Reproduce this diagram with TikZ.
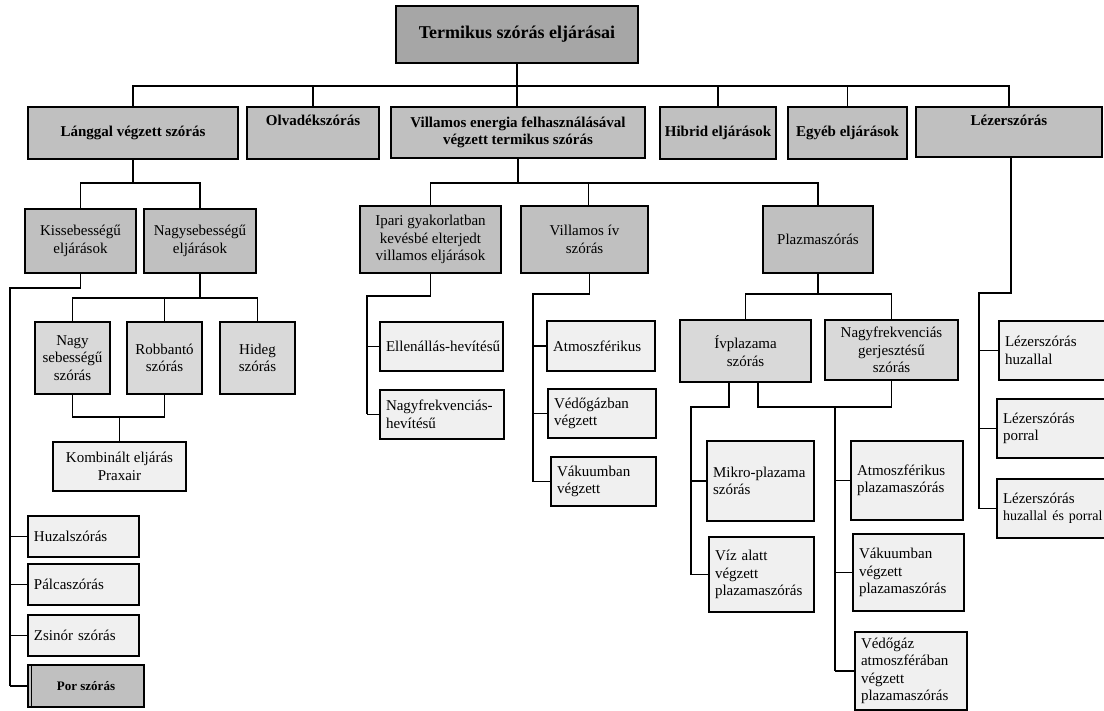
\documentclass[tikz,border=0pt]{standalone}
\usepackage{fontspec}
\setmainfont{Liberation Serif}
\hyphenpenalty=10000
\exhyphenpenalty=10000
\definecolor{cRoot}{HTML}{A6A6A6}
\definecolor{cMid}{HTML}{C0C0C0}
\definecolor{cLight}{HTML}{D9D9D9}
\definecolor{cLeaf}{HTML}{F0F0F0}
\newcommand\gbox[7]{%
  \pgfmathsetmacro\cx{(#3+#5)/2}\pgfmathsetmacro\cy{(#4+#6)/2}%
  \pgfmathsetmacro\ww{#5-#3}\pgfmathsetmacro\hh{#6-#4}%
  \node[box,#2,minimum width=\ww pt,minimum height=\hh pt] (#1) at (\cx,\cy) {#7};}
\newcommand\leafbox[6]{%
  \pgfmathsetmacro\cx{(#2+#4)/2}\pgfmathsetmacro\cy{(#3+#5)/2}%
  \pgfmathsetmacro\tw{#4-#2-12}\pgfmathsetmacro\hh{#5-#3}%
  \node[box,leaf,text width=\tw pt,minimum height=\hh pt] (#1) at (\cx,\cy) {#6};}
\begin{document}
\begin{tikzpicture}[x=1pt,y=-1pt,
  box/.style={draw=black,line width=1.8pt,inner sep=2pt,align=center,
    font=\fontsize{15}{17.5}\selectfont},
  bold/.style={font=\fontsize{15}{17.5}\selectfont\bfseries},
  mid/.style={fill=cMid},
  light/.style={fill=cLight},
  leaf/.style={fill=cLeaf,align=left,inner xsep=6pt},
  conn/.style={line width=1.8pt},
  tconn/.style={line width=1.2pt}]
\useasboundingbox (0,0) rectangle (1104,711);
\fill[white] (0,0) rectangle (1104,711);

% root and level 1
\gbox{root}{fill=cRoot,font=\fontsize{18}{21}\selectfont\bfseries}{396}{6}{638}{63}{Termikus szórás eljárásai}
\gbox{lang}{mid,bold}{28}{107}{238}{159}{Lánggal végzett szórás}
\gbox{olvad}{mid,bold}{247}{107}{379}{159}{Olvadékszórás\\[8pt]}
\gbox{villen}{mid,bold}{391}{107}{645}{158}{Villamos energia felhasználásával\\végzett termikus szórás}
\gbox{hibrid}{mid,bold}{660}{107}{776}{159}{Hibrid eljárások}
\gbox{egyeb}{mid,bold}{788}{107}{907}{159}{Egyéb eljárások}
\gbox{lezer}{mid,bold}{916}{107}{1102}{157}{Lézerszórás\\[6pt]}

% level 2
\gbox{kiss}{mid}{25}{209}{136}{273}{Kissebességű\\eljárások}
\gbox{nagy}{mid}{144}{209}{256}{273}{Nagysebességű\\eljárások}
\gbox{ipari}{mid}{360}{206}{501}{273}{Ipari gyakorlatban\\kevésbé elterjedt\\villamos eljárások}
\gbox{viv}{mid}{521}{206}{648}{273}{Villamos ív\\szórás}
\gbox{plazma}{mid}{763}{206}{873}{273}{Plazmaszórás}

% level 3
\gbox{nsz}{light}{35}{322}{110}{394}{Nagy\\sebességű\\szórás}
\gbox{robb}{light}{127}{322}{202}{394}{Robbantó\\szórás}
\gbox{hideg}{light}{220}{322}{295}{394}{Hideg\\szórás}
\gbox{komb}{fill=cLeaf}{53}{442}{186}{491}{Kombinált eljárás\\Praxair}
\gbox{ivp}{light}{680}{320}{811}{382}{Ívplazama\\szórás}
\gbox{nfg}{light}{825}{320}{958}{380}{Nagyfrekvenciás\\gerjesztésű\\szórás}

% leaves
\leafbox{huzal}{28}{516}{139}{557}{Huzalszórás}
\leafbox{palca}{28}{564}{139}{605}{Pálcaszórás}
\leafbox{zsinor}{28}{615}{139}{656}{Zsinór szórás}
\gbox{por}{mid,font=\fontsize{13}{15}\selectfont\bfseries}{28}{665}{144}{707}{Por szórás}
\draw[line width=1.2pt] ([xshift=4pt]por.north west) -- ([xshift=4pt]por.south west);

\leafbox{ell}{380}{322}{503}{371}{Ellenállás-hevítésű}
\leafbox{nfh}{380}{390}{504}{439}{Nagyfrekvenciás-\\hevítésű}
\leafbox{atm}{547}{321}{655}{371}{Atmoszférikus}
\leafbox{vedg}{548}{389}{656}{438}{Védőgázban\\végzett}
\leafbox{vak}{551}{457}{656}{506}{Vákuumban\\végzett}

\leafbox{mikro}{707}{441}{814}{521}{Mikro-plazama\\szórás}
\leafbox{viz}{709}{537}{814}{612}{Víz alatt\\végzett\\plazamaszórás}
\leafbox{atp}{851}{441}{963}{520}{Atmoszférikus\\plazamaszórás\\[4pt]}
\leafbox{vakp}{853}{534}{964}{611}{Vákuumban\\végzett\\plazamaszórás}
\leafbox{vedo}{855}{632}{967}{710}{Védőgáz\\atmoszférában\\végzett\\plazamaszórás}

\leafbox{lhu}{999}{321}{1112}{380}{Lézerszórás\\huzallal}
\leafbox{lpo}{997}{399}{1112}{458}{Lézerszórás\\porral}
\leafbox{lhp}{997}{479}{1112}{538}{Lézerszórás\\{\fontsize{14}{17.5}\selectfont huzallal~és~porral}}

% top bus
\coordinate (bus) at (0,86);
\draw[conn] (lang.north) -- (lang.north |- bus) -- (lezer.north |- bus) -- (lezer.north);
\draw[conn] (root.south) -- (root.south |- villen.north);
\foreach \n in {olvad,hibrid,egyeb} \draw[conn] (\n.north) -- (\n.north |- bus);

% under Lánggal
\coordinate (lb) at (0,183);
\draw[conn] (lang.south) -- (lang.south |- lb);
\draw[conn] (kiss.north) -- (kiss.north |- lb) -- (nagy.north |- lb) -- (nagy.north);

% under Nagysebességű
\coordinate (nb) at (0,298);
\draw[conn] (nagy.south) -- (nagy.south |- nb);
\draw[conn] (nsz.north) -- (nsz.north |- nb) -- (hideg.north |- nb) -- (hideg.north);
\draw[conn] (robb.north) -- (robb.north |- nb);
\coordinate (kb) at (0,417);
\draw[conn] (nsz.south) -- (nsz.south |- kb) -- (robb.south |- kb) -- (robb.south);
\draw[conn] (komb.north) -- (komb.north |- kb);

% under Kissebességű
\coordinate (ks) at (10,288);
\draw[tconn] (kiss.south) |- (ks) -- (ks |- por.west);
\foreach \n in {huzal,palca,zsinor,por} \draw[conn] (ks |- \n.west) -- (\n.west);

% under Villamos energia
\coordinate (vb) at (0,183);
\draw[conn] (villen.south) -- (villen.south |- vb);
\draw[conn] (ipari.north) -- (ipari.north |- vb) -- (plazma.north |- vb) -- (plazma.north);
\draw[conn] ([xshift=4pt]viv.north) -- ([xshift=4pt]viv.north |- vb);

% under Ipari
\coordinate (is) at (367,296);
\draw[tconn] (ipari.south) |- (is) -- (is |- nfh.west);
\foreach \n in {ell,nfh} \draw[conn] (is |- \n.west) -- (\n.west);

% under Villamos ív
\coordinate (vs) at (533,294);
\draw[tconn] ([xshift=5pt]viv.south) |- (vs) -- (vs |- vak.west);
\foreach \n in {atm,vedg,vak} \draw[conn] (vs |- \n.west) -- (\n.west);

% under Plazmaszórás
\coordinate (pb) at (0,294);
\draw[conn] (plazma.south) -- (plazma.south |- pb);
\draw[conn] (ivp.north) -- (ivp.north |- pb) -- (nfg.north |- pb) -- (nfg.north);

% under Ívplazama
\coordinate (ia) at (691,407);
\draw[tconn] ([xshift=-16.5pt]ivp.south) |- (ia) -- (ia |- viz.west);
\foreach \n in {mikro,viz} \draw[conn] (ia |- \n.west) -- (\n.west);
\coordinate (ib) at (835,407);
\draw[conn] ([xshift=12.5pt]ivp.south) |- (nfg.south |- ib) -- (nfg.south);
\draw[tconn] (ib) -- (ib |- vedo.west);
\foreach \n in {atp,vakp,vedo} \draw[conn] (ib |- \n.west) -- (\n.west);

% under Lézerszórás
\coordinate (ls) at (979,293);
\draw[tconn] ([xshift=2pt]lezer.south) |- (ls) -- (ls |- lhp.west);
\foreach \n in {lhu,lpo,lhp} \draw[conn] (ls |- \n.west) -- (\n.west);
\end{tikzpicture}
\end{document}
